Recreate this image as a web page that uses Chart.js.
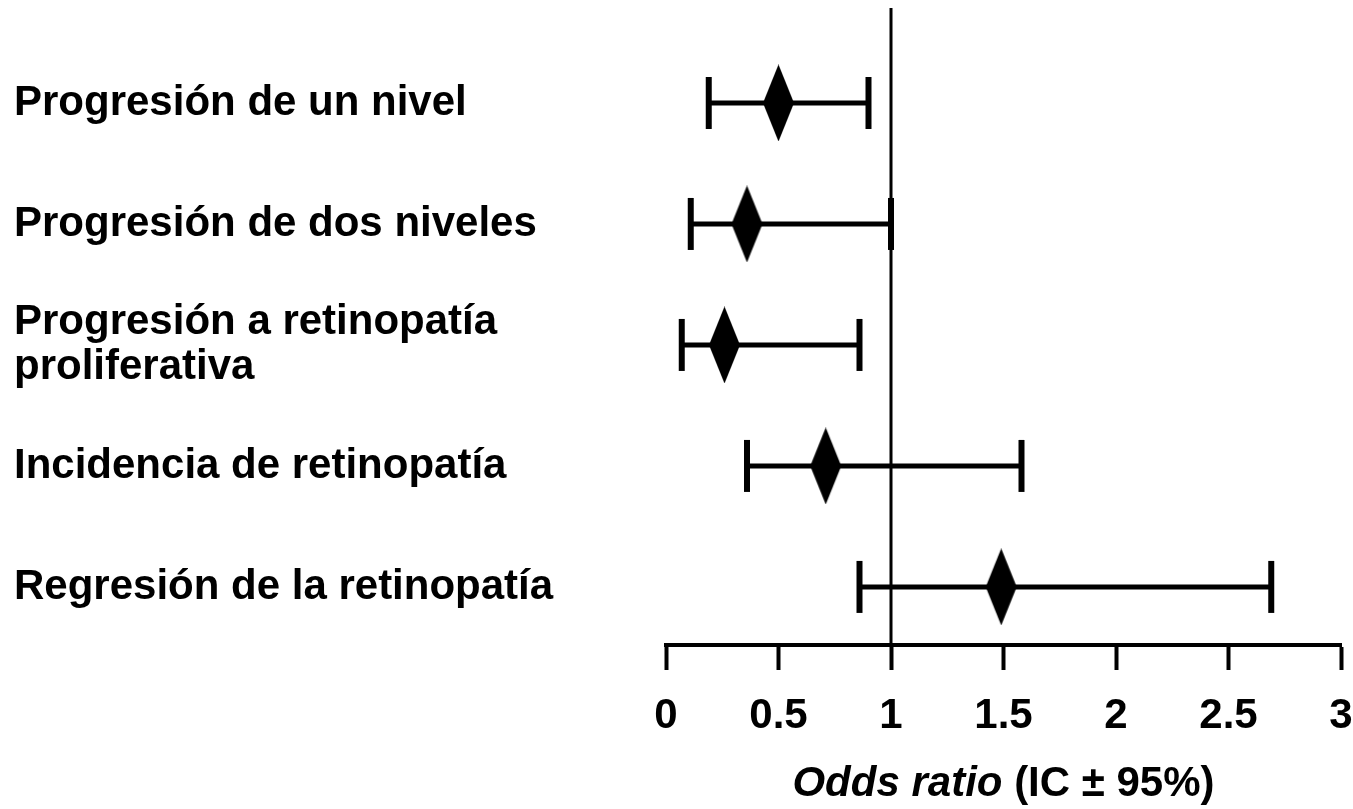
<!DOCTYPE html>
<html>
<head>
<meta charset="utf-8">
<script src="https://cdn.jsdelivr.net/npm/chart.js@4.4.1/dist/chart.umd.min.js"></script>
<style>
  html, body { margin: 0; padding: 0; background: #fff; }
  #forest { display: block; }
</style>
</head>
<body>
<canvas id="forest" width="1353" height="809"></canvas>
<script>
// rows, top to bottom
const rowLabels = [
    'Progresión de un nivel',
    'Progresión de dos niveles',
    ['Progresión a retinopatía', 'proliferativa'],
    'Incidencia de retinopatía',
    'Regresión de la retinopatía'
];
const oddsRatio = [0.50, 0.36, 0.26, 0.71, 1.49];
const ciLower = [0.19, 0.11, 0.07, 0.36, 0.86];
const ciUpper = [0.90, 1.00, 0.86, 1.58, 2.69];

const xTicks = [0, 0.5, 1, 1.5, 2, 2.5, 3];
const referenceValue = 1;

const FONT = "'Liberation Sans', Arial, Helvetica, sans-serif";
const yMin = -0.785, yMax = 4.48;

// tall diamond marker
function makeDiamond(w, h) {
    const c = document.createElement('canvas');
    c.width = w; c.height = h;
    const g = c.getContext('2d');
    g.fillStyle = '#000';
    g.beginPath();
    g.moveTo(w / 2, 0);
    g.lineTo(w, h / 2);
    g.lineTo(w / 2, h);
    g.lineTo(0, h / 2);
    g.closePath();
    g.fill();
    return c;
}
const diamond = makeDiamond(31, 77);

const datasets = [];

// vertical line at OR = 1
datasets.push({
    type: 'line',
    data: [{ x: referenceValue, y: yMin }, { x: referenceValue, y: yMax }],
    borderColor: '#000',
    borderWidth: 3,
    pointRadius: 0
});

// confidence intervals with caps
rowLabels.forEach((label, i) => {
    datasets.push({
        type: 'line',
        data: [{ x: ciLower[i], y: i }, { x: ciUpper[i], y: i }],
        borderColor: '#000',
        borderWidth: 5,
        pointStyle: 'line',
        pointRadius: 26,
        pointRotation: 90,
        pointBorderWidth: 6,
        pointBorderColor: '#000'
    });
});

// point estimates
datasets.push({
    type: 'scatter',
    data: oddsRatio.map((v, i) => ({ x: v, y: i })),
    pointStyle: diamond,
    pointRadius: 15
});

const axisTitle = {
    id: 'axisTitle',
    afterDraw(chart) {
        const ctx = chart.ctx;
        const xs = chart.scales.x;
        const cx = (xs.left + xs.right) / 2;
        const y = 784;
        const partA = 'Odds ratio';
        const partB = ' (IC \u00B1 95%)';
        ctx.save();
        ctx.fillStyle = '#000';
        ctx.textBaseline = 'middle';
        ctx.font = 'italic bold 42px ' + FONT;
        const wA = ctx.measureText(partA).width;
        ctx.font = 'bold 42px ' + FONT;
        const wB = ctx.measureText(partB).width;
        const x0 = cx - (wA + wB) / 2;
        ctx.textAlign = 'left';
        ctx.font = 'italic bold 42px ' + FONT;
        ctx.fillText(partA, x0, y);
        ctx.font = 'bold 42px ' + FONT;
        ctx.fillText(partB, x0 + wA, y);
        ctx.restore();
    }
};

new Chart(document.getElementById('forest'), {
    type: 'scatter',
    data: { datasets: datasets },
    options: {
        responsive: false,
        animation: false,
        devicePixelRatio: 1,
        layout: { autoPadding: false, padding: { left: 14, right: 12, top: 8, bottom: 0 } },
        plugins: {
            legend: { display: false },
            tooltip: { enabled: false }
        },
        scales: {
            x: {
                type: 'linear',
                min: 0,
                max: 3,
                afterBuildTicks: (scale) => { scale.ticks = xTicks.map(v => ({ value: v })); },
                afterFit: (scale) => {
                    scale.height = 164;
                    scale.paddingLeft = 0;
                    scale.paddingRight = 0;
                },
                ticks: {
                    color: '#000',
                    font: { family: FONT, size: 42, weight: 'bold' },
                    padding: 21,
                    maxRotation: 0,
                    autoSkip: false,
                    callback: (v) => String(v)
                },
                grid: {
                    display: true,
                    drawOnChartArea: false,
                    drawTicks: true,
                    tickLength: 25,
                    tickWidth: 4,
                    tickColor: '#000'
                },
                border: { display: true, color: '#000', width: 4 }
            },
            y: {
                type: 'linear',
                reverse: true,
                min: yMin,
                max: yMax,
                afterBuildTicks: (scale) => { scale.ticks = rowLabels.map((l, i) => ({ value: i })); },
                afterFit: (scale) => {
                    scale.width = 652;
                    scale.paddingTop = 0;
                    scale.paddingBottom = 0;
                },
                ticks: {
                    color: '#000',
                    crossAlign: 'far',
                    padding: 0,
                    autoSkip: false,
                    font: { family: FONT, size: 42, weight: 'bold', lineHeight: 1.05 },
                    callback: (v) => rowLabels[v]
                },
                grid: { display: false },
                border: { display: false }
            }
        }
    },
    plugins: [axisTitle]
});
</script>
</body>
</html>
